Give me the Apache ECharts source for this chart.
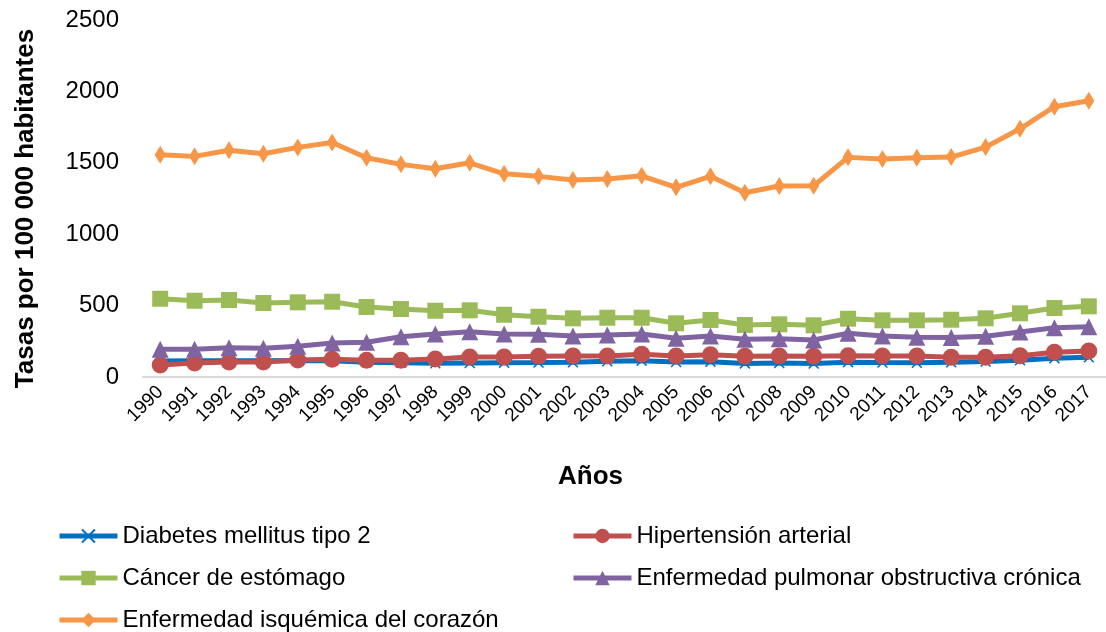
<!DOCTYPE html>
<html>
<head>
<meta charset="utf-8">
<script src="https://cdn.jsdelivr.net/npm/echarts@6/dist/echarts.min.js"></script>
<style>
  html, body { margin: 0; padding: 0; background: #fff; }
  #main { width: 1106px; height: 632px; }
</style>
</head>
<body>
<div id="main"></div>
<script>
var years = ["1990", "1991", "1992", "1993", "1994", "1995", "1996", "1997", "1998", "1999",
  "2000", "2001", "2002", "2003", "2004", "2005", "2006", "2007", "2008", "2009",
  "2010", "2011", "2012", "2013", "2014", "2015", "2016", "2017"];

var diabetes = [112, 113, 114, 114, 115, 113, 104, 100, 96, 98, 100, 101, 103, 110, 114,
  105, 107, 95, 98, 94, 104, 101, 99, 103, 108, 118, 132, 138];
var hipertension = [84, 98, 105, 105, 119, 124, 117, 117, 126, 140, 140, 145, 147, 147, 159,
  147, 156, 145, 147, 145, 149, 147, 147, 138, 138, 149, 173, 182];
var cancer = [548, 534, 539, 518, 523, 527, 490, 476, 464, 467, 436, 422, 411, 415, 415,
  376, 399, 364, 369, 362, 408, 397, 397, 401, 411, 446, 483, 495];
var epoc = [194, 194, 205, 201, 215, 238, 243, 282, 301, 317, 301, 299, 287, 294, 301,
  271, 287, 264, 268, 259, 306, 287, 278, 276, 285, 315, 345, 352];
var isquemica = [1556, 1545, 1588, 1563, 1608, 1642, 1535, 1489, 1458, 1500, 1423, 1405, 1379, 1386, 1409,
  1328, 1405, 1290, 1337, 1339, 1538, 1526, 1535, 1540, 1610, 1738, 1893, 1934];

var FONT = "Liberation Sans";
var X_PATH = "path://M0,1L1,0L5,4L9,0L10,1L6,5L10,9L9,10L5,6L1,10L0,9L4,5Z";

var chart = echarts.init(document.getElementById("main"));

function serie(name, data, color, symbol, size) {
  return {
    name: name,
    type: "line",
    data: data,
    symbol: symbol,
    symbolSize: size,
    showAllSymbol: true,
    animation: false,
    itemStyle: { color: color },
    lineStyle: { color: color, width: 5 },
  };
}

var legendText = { fontFamily: FONT, fontSize: 24, color: "#000", lineHeight: 24 };

var option = {
  backgroundColor: "#fff",
  textStyle: { fontFamily: FONT },
  title: {
    text: "Años",
    left: 558,
    top: 464,
    padding: 0,
    textStyle: { fontFamily: FONT, fontSize: 26, fontWeight: "bold", color: "#000" },
  },
  grid: { left: 143, top: 20, width: 969, height: 357 },
  legend: [
    {
      orient: "vertical",
      left: 57,
      top: 524,
      padding: 0,
      itemWidth: 58,
      itemHeight: 18,
      itemGap: 18,
      lineStyle: { width: 5 },
      textStyle: legendText,
      data: ["Diabetes mellitus tipo 2", "Cáncer de estómago", "Enfermedad isquémica del corazón"],
    },
    {
      orient: "vertical",
      left: 571,
      top: 524,
      padding: 0,
      itemWidth: 58,
      itemHeight: 18,
      itemGap: 18,
      lineStyle: { width: 5 },
      textStyle: legendText,
      data: ["Hipertensión arterial", "Enfermedad pulmonar obstructiva crónica"],
    },
  ],
  xAxis: {
    type: "category",
    data: years,
    boundaryGap: true,
    axisLine: { lineStyle: { color: "#d9d9d9", width: 2 } },
    axisTick: { show: false },
    axisLabel: {
      rotate: 45,
      interval: 0,
      margin: 12,
      fontFamily: FONT,
      fontSize: 19,
      color: "#000",
    },
  },
  yAxis: {
    type: "value",
    min: 0,
    max: 2500,
    interval: 500,
    name: "Tasas por 100 000 habitantes",
    nameLocation: "middle",
    nameRotate: 90,
    nameGap: 104,
    nameTextStyle: {
      fontFamily: FONT, fontSize: 26, fontWeight: "bold", color: "#000",
      padding: [0, 20, 0, 0],
    },
    axisLine: { show: false },
    axisTick: { show: false },
    splitLine: { show: false },
    axisLabel: {
      margin: 24, fontFamily: FONT, fontSize: 24, color: "#000",
      formatter: function (v) { return String(v); },
    },
  },
  series: [
    serie("Diabetes mellitus tipo 2", diabetes, "#0070C0", X_PATH, 11),
    serie("Hipertensión arterial", hipertension, "#C0504D", "circle", 17),
    serie("Cáncer de estómago", cancer, "#9BBB59", "rect", 16),
    serie("Enfermedad pulmonar obstructiva crónica", epoc, "#8064A2", "triangle", 17),
    serie("Enfermedad isquémica del corazón", isquemica, "#F79646", "diamond", [11, 18]),
  ],
};

chart.setOption(option);
</script>
</body>
</html>
